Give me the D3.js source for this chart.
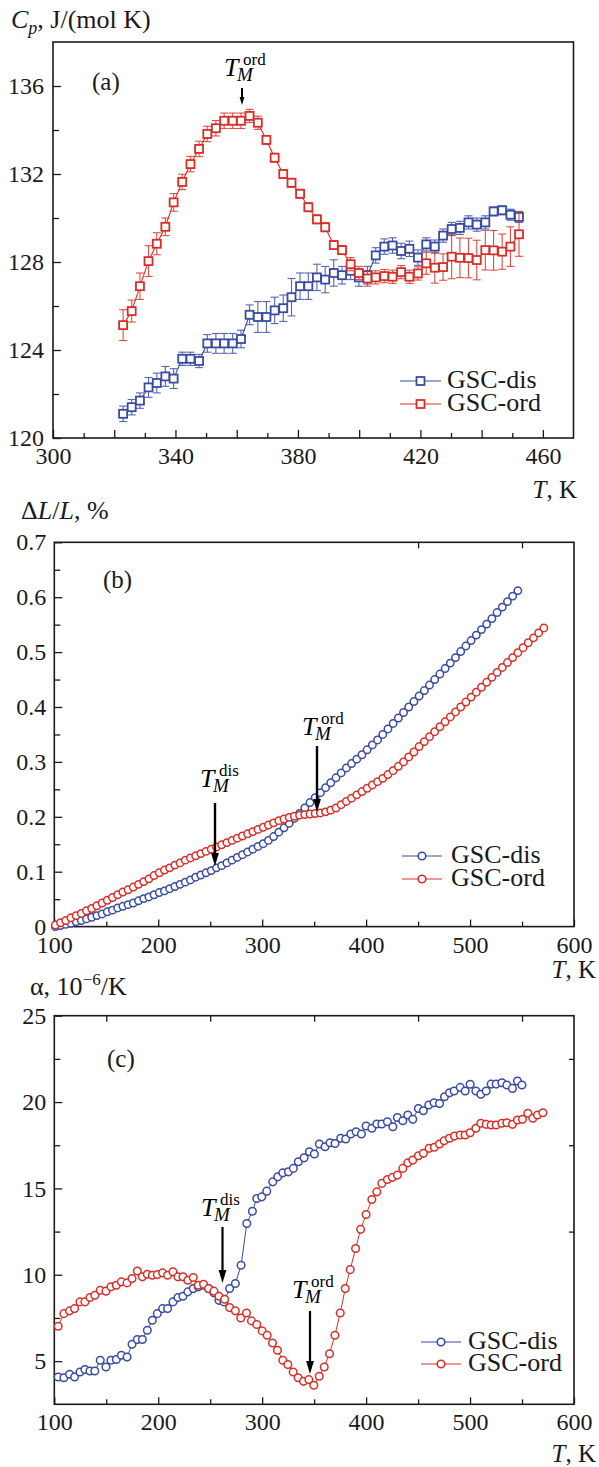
<!DOCTYPE html>
<html><head><meta charset="utf-8">
<script src="https://cdn.jsdelivr.net/npm/d3@7"></script>
<style>
body{margin:0;background:#fff}
svg{display:block}
svg text{font-family:"Liberation Serif","Tinos","Times New Roman","DejaVu Serif",serif !important;}
</style>
</head><body>
<svg id="chart" width="599" height="1467"></svg>
<script>
// ---------- Panel (a): heat capacity ----------
const aTemp = [322.9,325.7,328.4,331.2,333.9,336.7,339.4,342.2,344.9,347.7,350.4,353.2,355.9,358.7,361.4,364.2,366.9,369.7,372.4,375.2,377.9,380.7,383.4,386.2,388.9,391.7,394.4,397.2,399.9,402.7,405.4,408.2,410.9,413.7,416.4,419.2,421.9,424.7,427.4,430.2,432.9,435.7,438.4,441.2,443.9,446.7,449.4,452.2];
const aDis = [121.1,121.4,121.7,122.3,122.5,122.8,122.7,123.6,123.6,123.5,124.3,124.3,124.3,124.3,124.5,125.6,125.5,125.5,125.8,125.9,126.4,126.9,126.9,127.3,127.2,127.5,127.4,127.6,127.3,127.4,128.3,128.7,128.75,128.5,128.6,128.2,128.8,128.7,129.2,129.5,129.55,129.8,129.7,129.8,130.3,130.35,130.15,130.05];
const aDisErr = [0.35,0.35,0.35,0.45,0.45,0.45,0.45,0.3,0.3,0.3,0.4,0.45,0.45,0.45,0.4,0.45,0.7,0.7,0.6,0.6,0.85,0.6,0.6,0.6,0.6,0.6,0.4,0.4,0.4,0.4,0.35,0.35,0.35,0.35,0.35,0.35,0.3,0.3,0.3,0.3,0.3,0.3,0.3,0.3,0.2,0.2,0.25,0.25];
const aOrd = [125.13,125.77,126.9,128.04,128.83,129.6,130.71,131.64,132.45,133.14,133.82,134.08,134.42,134.42,134.42,134.64,134.33,133.55,132.74,132.0,131.6,131.1,130.49,129.94,129.58,128.77,128.54,127.9,127.5,127.25,127.3,127.36,127.33,127.54,127.33,127.48,127.94,127.74,127.77,128.24,128.19,128.18,128.09,128.54,128.53,128.47,128.7,129.26];
const aOrdErr = [0.7,0.5,0.6,0.7,0.5,0.4,0.4,0.35,0.35,0.35,0.35,0.35,0.35,0.35,0.35,0.3,0.3,0.2,0.2,0.2,0.2,0.2,0.2,0.2,0.2,0.2,0.2,0.3,0.3,0.35,0.3,0.3,0.3,0.3,0.3,0.3,0.5,0.7,0.6,1.0,0.9,0.9,0.9,0.9,0.9,0.8,0.9,1.0];
const aXTickLabels = [300,340,380,420,460];
const aYTickLabels = [120,124,128,132,136];

// ---------- Panel (b): relative elongation ----------
const bTempDis = [101,106,111,116,121,126,131,136,141,146,151,156,161,166,171,176,181,186,191,196,201,206,211,216,221,226,231,236,241,246,251,256,261,266,271,276,281,286,291,296,301,306,311,316,321,326,331,336,341,346,351,356,361,366,371,376,381,386,391,396,401,406,411,416,421,426,431,436,441,446,451,456,461,466,471,476,481,486,491,496,501,506,511,516,521,526,531,536,541,546];
const bDis = [0.000,0.002,0.004,0.006,0.009,0.011,0.014,0.017,0.020,0.023,0.027,0.030,0.034,0.037,0.040,0.043,0.047,0.051,0.054,0.058,0.062,0.065,0.069,0.073,0.077,0.081,0.085,0.090,0.094,0.098,0.102,0.107,0.111,0.116,0.121,0.126,0.131,0.136,0.141,0.146,0.151,0.157,0.164,0.172,0.180,0.188,0.197,0.206,0.216,0.226,0.235,0.244,0.253,0.262,0.271,0.280,0.289,0.297,0.305,0.313,0.322,0.331,0.340,0.350,0.360,0.370,0.380,0.390,0.400,0.410,0.420,0.430,0.440,0.450,0.460,0.470,0.480,0.490,0.501,0.511,0.521,0.531,0.541,0.551,0.561,0.572,0.582,0.592,0.602,0.612];
const bTempOrd = [101,106,111,116,121,126,131,136,141,146,151,156,161,166,171,176,181,186,191,196,201,206,211,216,221,226,231,236,241,246,251,256,261,266,271,276,281,286,291,296,301,306,311,316,321,326,331,336,341,346,351,356,361,366,371,376,381,386,391,396,401,406,411,416,421,426,431,436,441,446,451,456,461,466,471,476,481,486,491,496,501,506,511,516,521,526,531,536,541,546,551,556,561,566,571];
const bOrd = [0.003,0.007,0.011,0.016,0.020,0.024,0.029,0.033,0.038,0.043,0.048,0.053,0.058,0.063,0.067,0.072,0.077,0.082,0.087,0.093,0.098,0.103,0.107,0.112,0.116,0.121,0.125,0.129,0.133,0.137,0.141,0.145,0.149,0.153,0.157,0.161,0.165,0.169,0.173,0.177,0.181,0.185,0.189,0.193,0.196,0.199,0.201,0.203,0.204,0.205,0.206,0.207,0.209,0.212,0.216,0.222,0.228,0.234,0.240,0.246,0.252,0.258,0.264,0.270,0.277,0.284,0.292,0.300,0.309,0.318,0.328,0.337,0.346,0.355,0.364,0.373,0.382,0.391,0.400,0.409,0.418,0.427,0.436,0.445,0.454,0.463,0.472,0.481,0.490,0.499,0.508,0.517,0.526,0.535,0.544];
const bXTickLabels = [100,200,300,400,500,600];
const bYTickLabels = [0,0.1,0.2,0.3,0.4,0.5,0.6,0.7];

// ---------- Panel (c): thermal expansion coefficient ----------
const cTempDis = [103.7,109.2,114.7,119.5,124.7,129.5,134.3,139.0,144.2,149.7,154.5,159.7,164.5,170.0,174.8,179.9,184.7,189.5,194.3,199.1,204.2,209.0,214.2,219.0,223.8,228.5,233.7,238.5,243.6,248.4,253.6,258.4,263.2,268.7,274.2,279.7,285.2,290.6,294.8,299.6,304.4,310.2,315.0,319.8,325.2,330.0,334.8,340.3,345.4,350.2,355.0,360.5,365.3,370.1,375.6,380.4,385.3,390.4,395.5,400.0,405.5,410.3,415.1,420.5,425.7,430.1,435.3,440.1,444.9,450.3,455.1,460.3,465.4,470.6,475.4,480.2,484.7,490.5,495.3,500.1,505.6,510.4,515.5,520.3,525.1,530.6,535.4,540.8,545.6,549.9];
const cDis = [4.08,4.04,4.24,4.08,4.37,4.51,4.43,4.43,5.05,4.66,5.05,5.09,5.34,5.24,5.98,6.25,6.25,6.79,7.37,7.75,8.04,8.04,8.43,8.68,8.76,9.01,9.20,9.30,9.39,9.20,8.95,8.52,8.43,9.20,9.49,10.55,12.97,13.68,14.42,14.51,14.84,15.38,15.67,15.90,15.96,16.16,16.54,16.77,17.12,16.99,17.57,17.41,17.64,17.60,17.90,17.86,18.15,18.28,18.15,18.61,18.48,18.73,18.73,18.86,18.57,19.11,18.92,19.25,19.00,19.63,19.50,19.83,19.96,19.92,20.31,20.54,20.64,20.85,20.64,21.03,20.64,20.45,20.64,21.04,21.04,21.12,20.99,20.79,21.22,20.99];
const cTempOrd = [103.7,109.2,114.7,119.5,124.7,129.5,134.3,139.0,144.2,149.7,154.5,159.7,164.5,170.0,174.8,179.9,184.7,189.5,194.3,199.1,204.2,209.0,214.2,219.0,223.8,228.5,233.7,238.5,243.6,248.4,253.6,258.4,263.9,268.7,274.2,279.4,284.9,289.7,294.8,300.0,304.8,309.9,314.7,319.9,324.7,329.8,334.6,339.8,344.9,349.7,354.9,359.7,364.8,370.0,375.1,379.9,384.7,389.9,394.7,400.0,405.5,410.3,415.1,420.5,425.3,430.1,435.3,440.1,444.9,450.3,455.1,460.6,465.7,470.6,475.1,480.2,485.0,490.5,495.3,500.1,505.6,510.4,515.5,520.3,525.1,530.6,535.4,540.8,545.6,550.4,555.6,560.4,564.9,570.1];
const cOrd = [7.02,7.75,7.91,8.04,8.43,8.43,8.68,8.81,9.10,9.05,9.30,9.39,9.59,9.53,9.78,10.22,9.88,10.03,9.97,10.01,10.11,9.97,10.17,9.88,9.88,9.68,9.84,9.39,9.45,9.20,9.05,8.76,8.58,8.10,7.91,7.50,7.79,7.33,7.12,6.75,6.50,6.05,5.63,5.05,4.80,4.37,4.04,3.83,3.93,3.60,4.12,4.66,5.43,6.50,7.79,9.20,10.30,11.52,12.63,13.49,14.36,14.80,15.29,15.52,15.64,15.77,16.16,16.48,16.64,16.89,17.03,17.32,17.38,17.57,17.76,17.90,18.03,18.09,18.09,18.22,18.48,18.77,18.71,18.67,18.67,18.77,18.80,18.71,18.96,19.00,19.35,19.06,19.25,19.38];
const cXTickLabels = [100,200,300,400,500,600];
const cYTickLabels = [5,10,15,20,25];

const seriesNames = ["GSC-dis", "GSC-ord"];

// ---------- drawing ----------
const svg = d3.select("#chart");
const FONT = '"Liberation Serif", "Tinos", "Times New Roman", "DejaVu Serif", serif';
const BLUE = "#3a4ba2", RED = "#d72f27", INK = "#1a1a1a";

function axis(g, gen, values, size, labels, pad, fs) {
  const a = gen.tickValues(values).tickSize(-size).tickPadding(pad)
    .tickFormat(labels ? (d => labels.includes(d) ? String(d) : "") : "");
  const s = g.call(a);
  s.attr("font-family", null);
  s.select(".domain").remove();
  s.selectAll(".tick line").attr("stroke", INK).attr("stroke-width", 1.3);
  s.selectAll(".tick text").style("font-family", FONT).attr("font-size", fs || 24).attr("fill", INK);
  return s;
}

function frame(L, R, T, B) {
  svg.append("rect").attr("x", L).attr("y", T).attr("width", R - L).attr("height", B - T)
    .attr("fill", "none").attr("stroke", INK).attr("stroke-width", 1.6);
}

function arrow(x, y1, y2, head, w) {
  svg.append("line").attr("x1", x).attr("x2", x).attr("y1", y1).attr("y2", y2 - head + 1)
    .attr("stroke", "#000").attr("stroke-width", w);
  svg.append("path").attr("d", `M${x - head * 0.3},${y2 - head} L${x + head * 0.3},${y2 - head} L${x},${y2} Z`)
    .attr("fill", "#000");
}

function tm(x, y, sup) {
  svg.append("text").attr("x", x).attr("y", y).style("font-family", FONT).attr("font-size", 26)
    .attr("font-style", "italic").text("T");
  svg.append("text").attr("x", x + 13).attr("y", y + 5).style("font-family", FONT).attr("font-size", 19)
    .attr("font-style", "italic").text("M");
  svg.append("text").attr("x", x + 19).attr("y", y - 11).style("font-family", FONT).attr("font-size", 17).text(sup);
}

function label(x, y, txt, fs, anchor) {
  return svg.append("text").attr("x", x).attr("y", y).style("font-family", FONT).attr("font-size", fs)
    .attr("text-anchor", anchor || "start").attr("fill", INK).text(txt);
}

function xTitle(xr, y) {
  const t = svg.append("text").attr("x", xr).attr("y", y).style("font-family", FONT).attr("font-size", 25)
    .attr("text-anchor", "end").attr("fill", INK);
  t.append("tspan").attr("font-style", "italic").text("T");
  t.append("tspan").text(", K");
}

function legend(x0, x1, ys, colors, shape, tx) {
  seriesNames.forEach((n, i) => {
    const y = ys[i];
    svg.append("line").attr("x1", x0).attr("x2", x1).attr("y1", y).attr("y2", y)
      .attr("stroke", colors[i]).attr("stroke-width", 1.2);
    const xm = (x0 + x1) / 2;
    if (shape === "square") {
      svg.append("rect").attr("x", xm - 4).attr("y", y - 4).attr("width", 8).attr("height", 8)
        .attr("fill", "#fff").attr("stroke", colors[i]).attr("stroke-width", 1.8);
    } else {
      svg.append("circle").attr("cx", xm).attr("cy", y).attr("r", 3.8)
        .attr("fill", "#fff").attr("stroke", colors[i]).attr("stroke-width", 1.6);
    }
    label(tx, y + 7, n, 26);
  });
}

// ===== Panel (a) =====
{
  const L = 53, R = 573.5, T = 42, B = 438;
  const x = d3.scaleLinear().domain([300, 470]).range([L, R]);
  const y = d3.scaleLinear().domain([120, 138]).range([B, T]);
  frame(L, R, T, B);
  axis(svg.append("g").attr("transform", `translate(0,${B})`), d3.axisBottom(x),
    d3.range(310, 470, 20), 5, null, 9);
  axis(svg.append("g").attr("transform", `translate(0,${B})`), d3.axisBottom(x),
    d3.range(300, 461, 20), 8, aXTickLabels, 9);
  axis(svg.append("g").attr("transform", `translate(${L},0)`), d3.axisLeft(y),
    d3.range(122, 138, 4), 6, null, 9);
  axis(svg.append("g").attr("transform", `translate(${L},0)`), d3.axisLeft(y),
    aYTickLabels, 8, aYTickLabels, 9);

  const sets = [[aDis, aDisErr, BLUE], [aOrd, aOrdErr, RED]];
  sets.forEach(([vals, errs, col]) => {
    const data = aTemp.map((t, i) => ({ t, v: vals[i], e: errs[i] }));
    const g = svg.append("g");
    const eb = g.selectAll(".eb").data(data).join("g").attr("stroke", col).attr("stroke-width", 1.1).attr("opacity", 0.85);
    eb.append("line").attr("x1", d => x(d.t)).attr("x2", d => x(d.t)).attr("y1", d => y(d.v - d.e)).attr("y2", d => y(d.v + d.e));
    eb.append("line").attr("x1", d => x(d.t) - 4).attr("x2", d => x(d.t) + 4).attr("y1", d => y(d.v - d.e)).attr("y2", d => y(d.v - d.e));
    eb.append("line").attr("x1", d => x(d.t) - 4).attr("x2", d => x(d.t) + 4).attr("y1", d => y(d.v + d.e)).attr("y2", d => y(d.v + d.e));
    g.append("path").datum(data).attr("fill", "none").attr("stroke", col).attr("stroke-width", 1.1)
      .attr("d", d3.line().x(d => x(d.t)).y(d => y(d.v)));
    g.selectAll("rect").data(data).join("rect")
      .attr("x", d => x(d.t) - 4).attr("y", d => y(d.v) - 4).attr("width", 8).attr("height", 8)
      .attr("fill", "#fff").attr("stroke", col).attr("stroke-width", 1.8);
  });
  legend(400, 441, [381, 404], [BLUE, RED], "square", 447);
  label(92, 90, "(a)", 25);
  tm(224, 76, "ord");
  arrow(242, 88, 105, 8, 2);
  const yt = svg.append("text").attr("x", 11).attr("y", 28).style("font-family", FONT).attr("font-size", 26).attr("fill", INK);
  yt.append("tspan").attr("font-style", "italic").text("C");
  yt.append("tspan").attr("font-style", "italic").attr("font-size", 18).attr("dy", 6).text("p");
  yt.append("tspan").attr("dy", -6).text(", J/(mol K)");
  xTitle(577, 498);
}

// ===== Panel (b) =====
{
  const L = 54.3, R = 574, T = 542.3, B = 926.6;
  const x = d3.scaleLinear().domain([100, 600]).range([L, R]);
  const y = d3.scaleLinear().domain([0, 0.7]).range([B, T]);
  frame(L, R, T, B);
  axis(svg.append("g").attr("transform", `translate(0,${B})`), d3.axisBottom(x),
    d3.range(150, 600, 100), 5, null, 9);
  axis(svg.append("g").attr("transform", `translate(0,${B})`), d3.axisBottom(x),
    bXTickLabels, 7, bXTickLabels, 9);
  axis(svg.append("g").attr("transform", `translate(0,${T})`), d3.axisTop(x),
    [450, 550], 6, null, 9);
  axis(svg.append("g").attr("transform", `translate(${L},0)`), d3.axisLeft(y),
    [0.05, 0.15, 0.25, 0.35, 0.45, 0.55, 0.65], 6, null, 8);
  axis(svg.append("g").attr("transform", `translate(${L},0)`), d3.axisLeft(y),
    bYTickLabels, 8, bYTickLabels, 8);

  const sets = [[bTempDis, bDis, BLUE], [bTempOrd, bOrd, RED]];
  sets.forEach(([ts, vals, col]) => {
    const data = ts.map((t, i) => ({ t, v: vals[i] }));
    const g = svg.append("g");
    g.append("path").datum(data).attr("fill", "none").attr("stroke", col).attr("stroke-width", 1)
      .attr("d", d3.line().x(d => x(d.t)).y(d => y(d.v)));
    g.selectAll("circle").data(data).join("circle")
      .attr("cx", d => x(d.t)).attr("cy", d => y(d.v)).attr("r", 3.7)
      .attr("fill", "#fff").attr("stroke", col).attr("stroke-width", 1.5);
  });
  legend(402, 442, [856, 879], [BLUE, RED], "circle", 451);
  label(103, 588, "(b)", 25);
  tm(200, 787, "dis");
  arrow(215, 803, 866, 13, 2.4);
  tm(302, 735, "ord");
  arrow(317, 746, 812, 13, 2.4);
  const yt = svg.append("text").attr("x", 21).attr("y", 519).style("font-family", FONT).attr("font-size", 26).attr("fill", INK);
  yt.append("tspan").text("Δ");
  yt.append("tspan").attr("font-style", "italic").text("L");
  yt.append("tspan").text("/");
  yt.append("tspan").attr("font-style", "italic").text("L");
  yt.append("tspan").text(", %");
  xTitle(596, 978);
}

// ===== Panel (c) =====
{
  const L = 54.3, R = 574, T = 1015.7, B = 1404.3;
  const x = d3.scaleLinear().domain([100, 600]).range([L, R]);
  const y = d3.scaleLinear().domain([2.5, 25]).range([B, T]);
  frame(L, R, T, B);
  axis(svg.append("g").attr("transform", `translate(0,${B})`), d3.axisBottom(x),
    d3.range(150, 600, 100), 5, null, 9);
  axis(svg.append("g").attr("transform", `translate(0,${B})`), d3.axisBottom(x),
    cXTickLabels, 7, cXTickLabels, 9);
  axis(svg.append("g").attr("transform", `translate(0,${T})`), d3.axisTop(x),
    [150, 250, 350, 450, 550], 6, null, 9);
  axis(svg.append("g").attr("transform", `translate(${L},0)`), d3.axisLeft(y),
    [7.5, 12.5, 17.5, 22.5], 6, null, 8);
  axis(svg.append("g").attr("transform", `translate(${L},0)`), d3.axisLeft(y),
    cYTickLabels, 8, cYTickLabels, 8);
  axis(svg.append("g").attr("transform", `translate(${R},0)`), d3.axisRight(y),
    [12.5, 17.5, 22.5], 5, null, 8);

  const sets = [[cTempDis, cDis, BLUE], [cTempOrd, cOrd, RED]];
  sets.forEach(([ts, vals, col]) => {
    const data = ts.map((t, i) => ({ t, v: vals[i] }));
    const g = svg.append("g");
    g.append("path").datum(data).attr("fill", "none").attr("stroke", col).attr("stroke-width", 1)
      .attr("d", d3.line().x(d => x(d.t)).y(d => y(d.v)));
    g.selectAll("circle").data(data).join("circle")
      .attr("cx", d => x(d.t)).attr("cy", d => y(d.v)).attr("r", 3.8)
      .attr("fill", "#fff").attr("stroke", col).attr("stroke-width", 1.5);
  });
  legend(421, 461, [1342, 1364], [BLUE, RED], "circle", 468);
  label(107, 1067, "(c)", 25);
  tm(201, 1216, "dis");
  arrow(222.5, 1227, 1283, 13, 2.2);
  tm(292, 1298, "ord");
  arrow(310, 1311, 1374, 13, 2.2);
  const yt = svg.append("text").attr("x", 30).attr("y", 995).style("font-family", FONT).attr("font-size", 26).attr("fill", INK);
  yt.append("tspan").text("α, 10");
  yt.append("tspan").attr("font-size", 17).attr("dy", -10).text("−6");
  yt.append("tspan").attr("dy", 10).text("/K");
  xTitle(596, 1462);
}
</script>
</body></html>
